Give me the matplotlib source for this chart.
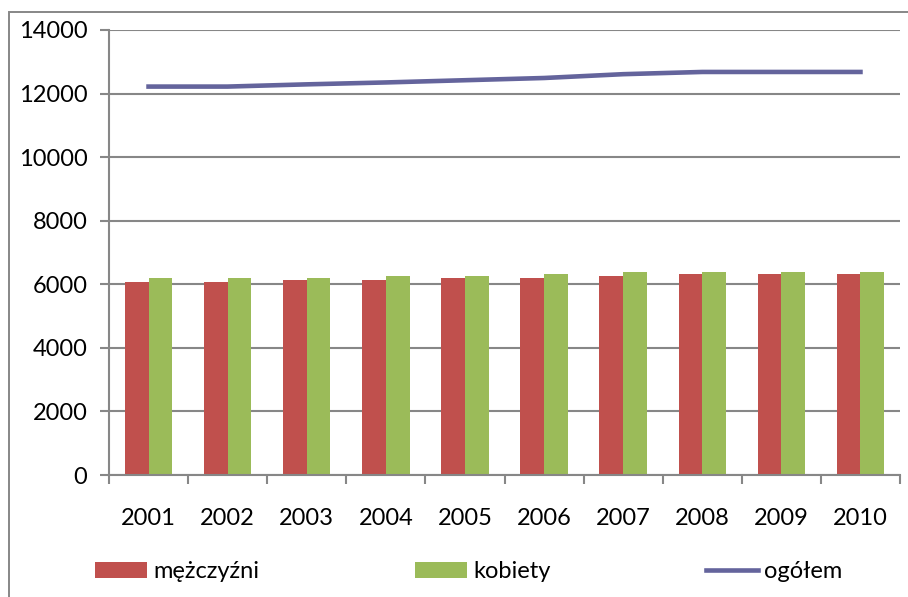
import numpy as np
import matplotlib.pyplot as plt
from matplotlib.patches import Rectangle

plt.rcParams['font.family'] = ['Lato', 'DejaVu Sans']

years = ['2001', '2002', '2003', '2004', '2005', '2006', '2007', '2008', '2009', '2010']
men = [6060, 6060, 6130, 6130, 6190, 6190, 6250, 6310, 6310, 6310]
women = [6190, 6190, 6190, 6250, 6250, 6310, 6380, 6380, 6380, 6380]
total = [12220, 12220, 12290, 12350, 12420, 12490, 12610, 12680, 12680, 12680]

red = '#C0504D'
green = '#9BBB59'
purple = '#64649C'
gray = '#878787'
fs = 17

fig = plt.figure(figsize=(9.08, 5.97), dpi=100)
ax = fig.add_axes([109 / 908, 1 - 475 / 597, 791 / 908, 445 / 597])

x = np.arange(len(years))
w = 0.3
b1 = ax.bar(x - w / 2, men, w, color=red, label='mężczyźni', zorder=2)
b2 = ax.bar(x + w / 2, women, w, color=green, label='kobiety', zorder=2)
l1, = ax.plot(x, total, color=purple, lw=3.3, label='ogółem', zorder=3)

ax.set_xlim(-0.5, len(years) - 0.5)
ax.set_ylim(0, 14000)
ax.set_yticks(range(0, 14001, 2000))
ax.set_xticks(x)
ax.set_xticklabels(years)
ax.set_xticks(np.arange(-0.5, len(years)), minor=True)

ax.grid(axis='y', color=gray, lw=1.5, zorder=0)
ax.set_axisbelow(True)
for s in ['top', 'right']:
    ax.spines[s].set_visible(False)
for s in ['left', 'bottom']:
    ax.spines[s].set_color(gray)
    ax.spines[s].set_linewidth(1.5)

ax.tick_params(axis='y', direction='out', length=6.5, width=1.5, color=gray,
               labelsize=fs, pad=9)
ax.tick_params(axis='x', which='major', length=0, labelsize=fs, pad=24)
ax.tick_params(axis='x', which='minor', direction='out', length=6.5, width=1.5, color=gray)

fig.legend(handles=[b1, b2, l1], loc='center left',
           bbox_to_anchor=(95 / 908, 1 - 572 / 597), ncol=3,
           frameon=False, fontsize=fs, handlelength=2.2, handleheight=0.65,
           handletextpad=0.26, columnspacing=6.6, borderpad=0, borderaxespad=0)

fig.add_artist(Rectangle((9 / 908, -0.1), 1.0, 1 - 12 / 597 + 0.1,
                         transform=fig.transFigure, fill=False,
                         edgecolor=gray, lw=1.4))

fig.savefig('out.png', dpi=100)
